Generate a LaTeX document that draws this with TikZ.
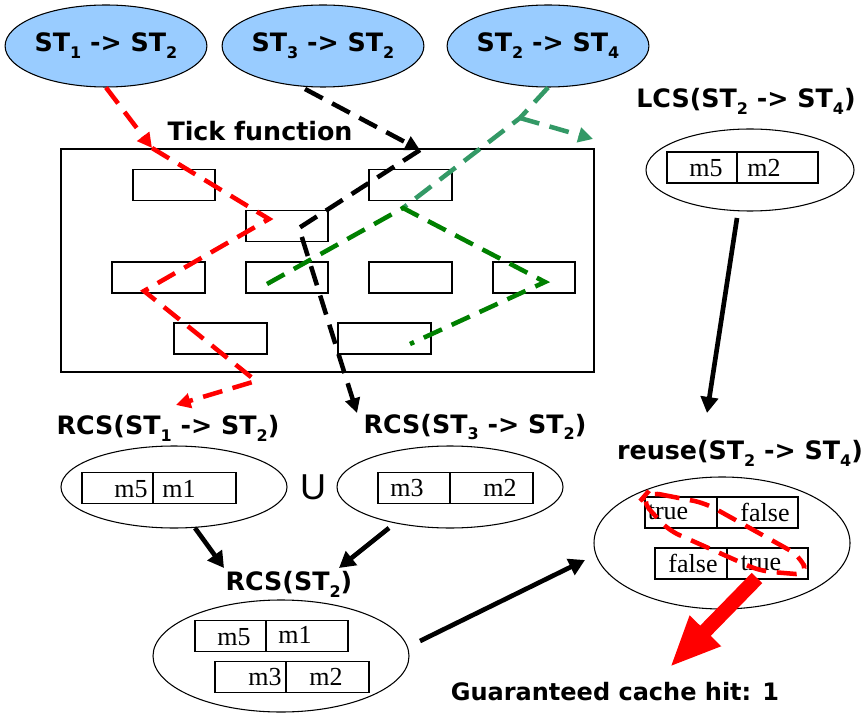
\documentclass[tikz,border=0pt]{standalone}
\usepackage{fontspec}
\setmainfont{Liberation Serif}
\newfontfamily\lblfont{DejaVu Sans}
\newfontfamily\ufont{Liberation Sans}
\usetikzlibrary{shapes.geometric,arrows.meta}
\definecolor{topblue}{RGB}{153,204,255}
\definecolor{lcsteal}{RGB}{51,153,102}
\definecolor{tickgreen}{RGB}{0,128,0}
% lowered index digit in the state labels
\newcommand\lo[1]{\raisebox{-0.5ex}{\fontsize{12}{12}\selectfont #1}}
\begin{document}
\begin{tikzpicture}[x=0.75pt,y=-0.75pt,
  wd/.style={minimum width=0.75*#1pt},
  ht/.style={minimum height=0.75*#1pt},
  lbl/.style={font=\lblfont\bfseries\fontsize{19}{22}\selectfont, inner sep=0},
  stnode/.style={ellipse, draw, line width=0.8pt, fill=topblue, wd=198, ht=82, inner sep=0, lbl},
  setnode/.style={ellipse, draw, line width=0.8pt, inner sep=0},
  blank/.style={draw, line width=0.8pt, inner sep=0, ht=31},
  slot/.style={draw, line width=0.8pt, inner sep=0, ht=31},
  val/.style={font=\fontsize{19.5}{20}\selectfont, inner sep=0},
  dsh/.style={line width=3.4pt, dash pattern=on 15pt off 8pt, line join=miter},
  darr/.style={dsh, -{Triangle[length=11pt,width=11pt]}},
  sarr/.style={line width=3.5pt, -{Triangle[length=12pt,width=13pt]}}]
\useasboundingbox (0,0) rectangle (866,716);

% transitions on top
\node[stnode] (s12) at (106,46) {ST\lo1 -> ST\lo2};
\node[stnode] (s32) at (323,46) {ST\lo3 -> ST\lo2};
\node[stnode] (s24) at (548,46) {ST\lo2 -> ST\lo4};

% tick function with its cache blocks
\node[lbl] (tickT) at (260,131) {Tick function};
\node[draw, line width=0.8pt, inner sep=0, wd=533, ht=223] (tick) at (327.5,260.5) {};
\node[blank, wd=82] (t1) at (174,185) {};
\node[blank, wd=83] (t2) at (410.5,185) {};
\node[blank, wd=82] (t3) at (287,226) {};
\node[blank, wd=93] (t4) at (158.5,277.5) {};
\node[blank, wd=82] (t5) at (287,277.5) {};
\node[blank, wd=83] (t6) at (410.5,277.5) {};
\node[blank, wd=82] (t7) at (534,277.5) {};
\node[blank, wd=93] (t8) at (220.5,338.5) {};
\node[blank, wd=93] (t9) at (384.5,338.5) {};

% LCS of ST2 -> ST4
\node[lbl] (lcsT) at (746,101) {LCS(ST\lo2 -> ST\lo4)};
\node[setnode, wd=208, ht=82] (lcsE) at (750,170) {};
\node[slot, wd=70] (lcsA) at (702,167.5) {};
\node[slot, wd=81] (lcsB) at (777.5,167.5) {};
\node[val] at (706,168) {m5};
\node[val] at (764,168) {m2};

% RCS of the two incoming transitions
\node[lbl] (rcs1T) at (168,428) {RCS(ST\lo1 -> ST\lo2)};
\node[setnode, wd=226, ht=82] (rcs1E) at (174,487) {};
\node[slot, wd=71] (rcs1A) at (117.5,488) {};
\node[slot, wd=83] (rcs1B) at (194.5,488) {};
\node[val] at (131,489) {m5};
\node[val] at (179,489) {m1};

\node[font=\ufont\fontsize{27}{27}\selectfont, inner sep=0] (cup) at (313,487) {U};

\node[lbl] (rcs3T) at (475,427) {RCS(ST\lo3 -> ST\lo2)};
\node[setnode, wd=226, ht=82] (rcs3E) at (450,487) {};
\node[slot, wd=72] (rcs3A) at (414,488) {};
\node[slot, wd=83] (rcs3B) at (491.5,488) {};
\node[val] at (407,488) {m3};
\node[val] at (500,488) {m2};

% joined RCS of ST2
\node[lbl] (rcs2T) at (289,584) {RCS(ST\lo2)};
\node[setnode, wd=256, ht=112] (rcs2E) at (281,656) {};
\node[slot, wd=71] (bA) at (230.5,636) {};
\node[slot, wd=82] (bB) at (307,636) {};
\node[slot, wd=71] (bC) at (250.5,677) {};
\node[slot, wd=83] (bD) at (327.5,677) {};
\node[val] at (234,637) {m5};
\node[val] at (295,635) {m1};
\node[val] at (265,677) {m3};
\node[val] at (326,677) {m2};

% reuse of ST2 -> ST4
\node[lbl] (reuseT) at (740,453) {reuse(ST\lo2 -> ST\lo4)};
\node[setnode, wd=256, ht=132] (reuseE) at (722,543) {};
\node[slot, wd=72] (u1) at (681,512.5) {};
\node[slot, wd=81] (u2) at (757.5,512.5) {};
\node[slot, wd=72] (u3) at (691,563.5) {};
\node[slot, wd=81] (u4) at (767.5,563.5) {};
\node[val] at (668,512) {true};
\node[val] at (765,512) {false};
\node[val] at (693,563) {false};
\node[val] at (761,563) {true};

\node[lbl, font=\lblfont\bfseries\fontsize{18}{22}\selectfont] (hitT) at (615,692) {Guaranteed cache hit: 1};

% bend points of the dashed traces
\coordinate (r1) at (152,148);
\coordinate (r2) at (269,219);
\coordinate (r3) at (144,291);
\coordinate (r4) at (256,381);
\coordinate (r5) at (176,405);
\coordinate (b0) at (305,89);
\coordinate (b1) at (420,150);
\coordinate (b2) at (299,228);
\coordinate (b3) at (357,413);
\coordinate (g1) at (520,118);
\coordinate (g2) at (403,208);
\coordinate (g3) at (593,139);
\coordinate (g4) at (267,284);
\coordinate (g5) at (545,282);
\coordinate (g6) at (410,344);

% dashed traces through the tick function
\draw[red, darr] (s12.south) -- (r1);
\draw[red, darr] (r1) -- (r2) -- (r3) -- (r4) -- (r5);
\draw[darr] (b0) -- (b1);
\draw[darr] (b1) -- (b2) -- (b3);
\draw[lcsteal, dsh] (s24.south) -- (g1) -- (g2);
\draw[lcsteal, darr] (g1) -- (g3);
\draw[tickgreen, dsh] (g4) -- (g2) -- (g5) -- (g6);

% solid flow arrows
\coordinate (a1) at (737,218);
\coordinate (a2) at (707,413);
\coordinate (a3) at (195,528);
\coordinate (a4) at (224,568);
\coordinate (a5) at (389,528);
\coordinate (a6) at (339,568);
\coordinate (a7) at (420,641);
\coordinate (a8) at (585,560);
\draw[sarr] (a1) -- (a2);
\draw[sarr] (a3) -- (a4);
\draw[sarr] (a5) -- (a6);
\draw[sarr] (a7) -- (a8);

% the hit: loop around the matching entries and the big arrow
\draw[red, line width=3.4pt, dash pattern=on 15pt off 8pt, rounded corners=9pt]
  (648,492) -- (705,503) -- (800,556) -- (808,575) -- (760,571) -- (668,530) -- (641,500) -- cycle;
\coordinate (h1) at (757,578);
\coordinate (h2) at (670,667);
\draw[red, line width=11pt, -{Triangle[length=38pt,width=30pt]}] (h1) -- (h2);
\end{tikzpicture}
\end{document}
